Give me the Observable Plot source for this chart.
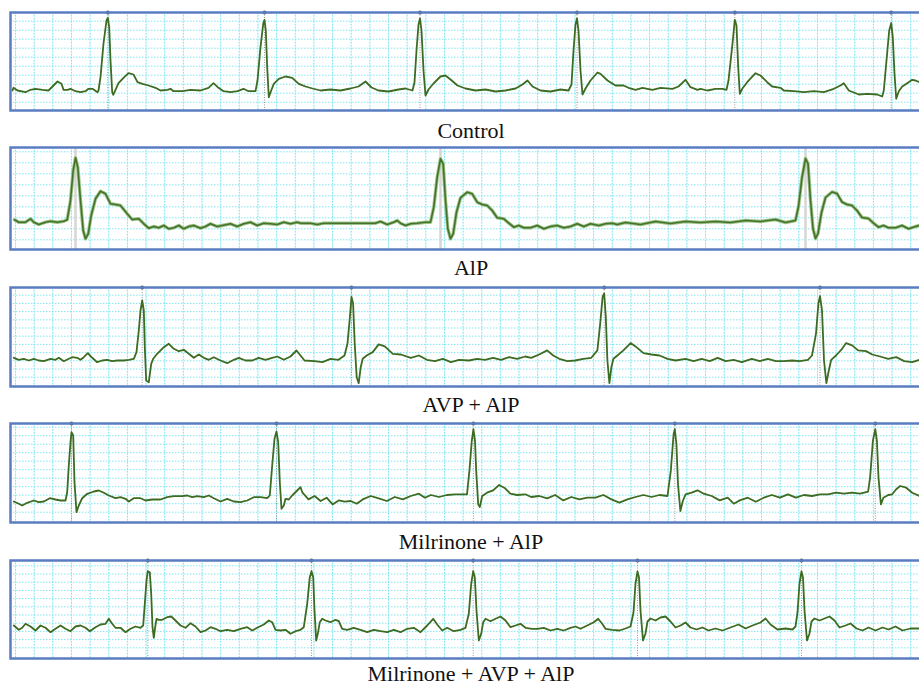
<!DOCTYPE html>
<html><head><meta charset="utf-8">
<script src="https://cdn.jsdelivr.net/npm/d3@7"></script>
<script src="https://cdn.jsdelivr.net/npm/@observablehq/plot@0.6"></script>
<style>
body{margin:0;background:#fff;}
#wrap{position:relative;width:919px;height:687px;overflow:hidden;background:#fff;}
#wrap > svg{position:absolute;left:0;margin:0;max-width:none !important;}
.cap{position:absolute;left:10px;width:922px;text-align:center;font-family:"Liberation Serif","Times New Roman",Times,"DejaVu Serif",serif;font-size:22px;line-height:1;color:#111;white-space:nowrap;}
</style></head><body><div id="wrap"></div>
<script>
// Condition names (panel captions)
const conditions = ["Control", "AlP", "AVP + AlP", "Milrinone + AlP", "Milrinone + AVP + AlP"];

// Traces: [time (samples), amplitude (arbitrary units above strip bottom)]
const controlTrace = [[2,20],[3,22.7],[7,20],[15,18.3],[20,20.7],[25,21.7],[32,20.7],[38,20],[43,25],[47,29],[51,26.7],[53,20.7],[57,20.7],[60,21.7],[65,19.3],[70,18.3],[75,19.3],[78,21.7],[82,21.7],[87,18.3],[88,20],[90,33.3],[93,67],[96,90],[97.3,92.7],[98.7,83.3],[100,50],[101.7,18.3],[102.7,15.7],[105,20.7],[108,27.3],[113,32.7],[118,37.3],[123,36],[127,28.3],[132,26.7],[138,25],[145,22.7],[150,20],[157,20.7],[160,21.7],[163,19.3],[172,19.3],[180,20.7],[190,20],[198,22.7],[203,27.3],[208,22.7],[213,19.3],[220,18.3],[227,19.3],[233,21.7],[238,19.3],[245,19.3],[247,30],[250,63.3],[252.7,86.7],[254,90.7],[255.3,80],[256.7,43.3],[258.3,13.3],[260.7,20],[263.3,26.7],[268.3,31.7],[275,34],[281.7,32.7],[288.3,26.7],[295,24],[302,22],[310,20],[320,21],[330,20],[340,22],[348,24],[355,29],[361,23],[368,20],[378,19],[388,21],[395,22],[402,20],[404,28],[406,60],[408,86],[409.5,92],[411,80],[413,40],[415,15],[418,21],[423,27],[430,34],[435,35],[440,31],[447,25],[455,22],[465,20],[475,21],[485,19],[495,20],[505,22],[512,26],[517,30],[522,24],[530,20],[540,19],[550,21],[558,20],[561,26],[563,60],[565,86],[566.5,92],[568,80],[570,40],[572,16],[575,22],[580,30],[587,38],[590,36.7],[597,30],[605,25],[613,25],[618,22.7],[625,20.7],[632,22.7],[642,20.7],[650,22.7],[662,21.7],[668,24],[675,30.7],[680,23.3],[687,20.7],[690,21.7],[697,20],[705,21.7],[712,21.7],[716,20.7],[718,30],[722,67],[724.3,90.7],[726,85],[727.7,43.3],[729.3,16.7],[731.7,21.7],[736.7,28.3],[745,37.3],[750,35],[756.7,28.3],[761.7,24],[770,22.7],[773.3,20],[783.3,19.3],[793.3,18.3],[803.3,19.3],[813.3,18.3],[823.3,21.7],[830,25],[833.3,27.3],[838.3,20],[848.3,16],[856.7,16.7],[866.7,16],[871.7,14],[873.3,20],[876,50],[878.7,80],[880.7,87.3],[882.3,73.3],[884,36.7],[885.7,11.7],[888.3,19.3],[891.7,24],[896.7,27.3],[901.7,30.7],[905,30],[909,28.3]];

const alpTrace = [[4,29.7],[8.3,27.3],[15,27.3],[20,30.7],[23.3,27.3],[28.3,25],[35,27.3],[40,28.3],[46.7,27.3],[53.3,28.3],[56.7,29.7],[60,49],[62.7,79],[65,91.7],[67.3,82.3],[70,49],[72.7,19],[75,10.7],[77.7,15.7],[80.7,34],[85,50.7],[90,58.3],[95,55.7],[100,45.7],[105,45],[110,44],[116.7,35.7],[121.7,30],[128.3,30.7],[133.3,25.7],[138.3,21.3],[143.3,23],[148.3,21.7],[153.3,24],[158.3,20.7],[163.3,21.7],[168.3,24],[173.3,20.7],[178.3,23],[183.3,24],[190,21.3],[195,23],[200,25.7],[206.7,23],[211.7,24],[220,25.7],[226.7,23],[233.3,25.7],[240,27.3],[246.7,24],[253.3,26.3],[260,25.7],[266.7,25],[273.3,27.3],[280,25.7],[286.7,27.3],[290,26.3],[300,26.3],[306.7,25],[313.3,26.3],[323.3,26.3],[333.3,26.3],[343.3,26.3],[356.7,26.3],[365,26.3],[370,28],[376.7,25],[383.3,27.3],[386.7,29],[390,26.3],[395,24],[400,25.7],[406.7,26.3],[415,27.3],[420,27.3],[423.3,42.3],[426.7,72.3],[430,90.7],[432.7,85.7],[435,49],[437.3,20.7],[440,10.7],[442.7,15.7],[446,37.3],[450,51.7],[456.7,57.3],[461.7,55.7],[466.7,47.3],[471.7,45],[476.7,44],[481.7,39],[486.7,31.7],[493.3,30.7],[498.3,26.3],[503.3,22.3],[508.3,24],[513.3,21.7],[520,21.7],[526.7,24],[533.3,20.7],[540,23],[546.7,24],[553.3,21.7],[560,23],[566.7,25.7],[573.3,23],[580,25.7],[588.3,24],[595,25.7],[601.7,26.3],[606.7,25],[615,27],[630,25],[645,28],[660,26],[675,28],[690,27],[705,28],[720,27],[735,29],[750,28],[765,30],[775,27],[785,29],[788,43],[791.5,72],[795,91],[797.5,86],[800,49],[802.5,21],[805,11],[807.5,16],[811,37],[815,52],[821.5,57.5],[826.5,56],[831.5,47.5],[836.5,45],[841.5,44],[846.5,39],[851.5,32],[858,31],[863,26.3],[868,22.3],[873,24],[878,21.7],[885,21.7],[891.5,24],[898,20.7],[905,23],[909,24]];

const avpTrace = [[3.3,28.7],[8.3,26.7],[13.3,27.7],[18.3,26],[23.3,27.7],[28.3,26],[33.3,25.3],[40,27.7],[45,26.7],[48.3,28.7],[53.3,25.3],[58.3,27.7],[61.7,29.3],[66.7,28.7],[70,26.7],[73.3,29.3],[77.3,33.3],[81.7,28.7],[86.7,24.3],[91.7,26],[96.7,26.7],[101.7,25.3],[106.7,26],[113.3,26],[118.3,26.7],[123.3,27.7],[126,34.3],[128.3,56],[130,76],[131.7,86],[133.3,76],[134.3,39.3],[135.7,6],[138.3,4.3],[140.7,22.7],[142.7,27.7],[146.7,32.7],[153.3,39.3],[158.3,42.7],[163.3,37.7],[168.3,35.3],[173.3,36.7],[178.3,32.7],[183.3,28.7],[188.3,32],[193.3,28.7],[198.3,26.7],[203.3,29.3],[210,26],[216.7,23.3],[223.3,26.7],[228.3,28.7],[235,26],[241.7,26],[248.3,28.7],[255,26.7],[261.7,28.7],[266.7,30],[273.3,26.7],[280,30],[286,36],[290,31],[294,26],[304,25.4],[312,24.4],[320,27.7],[328,26.7],[334,31],[337,43],[339.4,69.5],[341,89.6],[342.6,83],[344.2,43],[346.2,9.3],[348.2,3.3],[350.2,19.3],[352.2,27.7],[356.2,31],[362.2,34.4],[368.2,42.1],[374.3,40.1],[382.3,32.7],[390.3,32],[400.3,28.7],[408.4,31],[416.4,26.7],[424.4,25.4],[432.4,27.7],[440.4,24.4],[448.5,26.7],[458.5,26],[466.5,27.7],[474.5,26.7],[482.6,28.7],[490.6,26.7],[498.6,29.4],[506.6,27.7],[514.7,30],[520.7,28.7],[528.7,32],[536.7,36.1],[542.7,31],[548.8,27.7],[556.8,25.4],[564.8,26],[572.8,27.7],[580.8,28.7],[586.9,36.1],[589.7,62.8],[592.1,89.6],[593.7,93],[595.3,69.5],[596.9,26],[598.9,3.3],[600.9,19.3],[602.9,27.7],[606.9,31],[612.9,36.1],[620.1,43.4],[625,40.1],[633,33.4],[641,32],[649,31],[657,27.7],[665.1,26],[675.1,27.7],[683.1,25.4],[691.2,27.7],[699.2,25.4],[707.2,28.7],[715.2,25.4],[723.2,26.7],[731.3,24.4],[741.3,27.7],[749.3,25.4],[757.3,27.7],[765.4,25.4],[773.4,25.4],[781.4,26],[789.4,25.4],[797.4,26.7],[801.5,31],[805.5,52.8],[807.9,83],[809.5,90.3],[811.5,76.2],[813.5,26],[815.9,3.3],[818.3,16],[820.7,26.7],[825.5,31],[831.6,37.7],[835.6,43.4],[841.6,41.1],[847.6,36.1],[855.6,35.4],[861.6,32],[869.6,30],[877.7,27.7],[885.7,29.4],[893.7,25.4],[901.7,24.4],[909,26.7]];

const milTrace = [[3.3,21],[8.3,18.7],[11.7,17],[16.7,19.7],[23.3,22],[28.3,20.3],[33.3,21],[39.3,24.3],[45,23],[50,22],[55,22],[56.7,30.3],[58.3,57],[60,80.3],[61,90.3],[62.7,87],[64,40.3],[66,10.3],[68.3,17],[71.7,24.3],[76.7,28.7],[83.3,31],[88.3,32],[93.3,29.7],[98.3,27],[105,24.3],[110,25.3],[115,23.7],[118.3,21],[123.3,24.3],[130,24.3],[135,22],[141.7,23],[150,23],[156.7,25.3],[163.3,26.3],[171.7,26.3],[176.7,27],[181.7,25.3],[186.7,26.3],[193.3,25.3],[198.3,27],[203.3,24.3],[210,21],[216.7,23.7],[223.3,21],[230,20.3],[236.7,22],[243.3,25.3],[250,25.3],[256.7,24.3],[259.3,27],[261.7,57],[264,83.7],[266,91],[267.7,80.3],[269.3,40.3],[271,13.7],[273.3,17],[275,23.7],[278.3,23],[281.7,27],[286.7,32],[290,35.3],[292,29.8],[298,23.1],[304.1,26.5],[310.1,21.5],[316.1,24.8],[322.1,18.1],[328.1,22.1],[334.2,20.8],[340.2,21.5],[346.2,18.8],[352.2,23.1],[360.2,26.5],[368.2,24.1],[376.3,21.5],[384.3,25.5],[392.3,23.1],[400.3,26.5],[408.4,28.8],[414.4,24.8],[420.4,27.5],[428.4,25.5],[436.4,27.5],[444.5,28.2],[450.5,28.2],[456.5,28.2],[458.9,51.6],[461.3,81.7],[462.9,93.4],[464.5,81.7],[465.7,51.6],[467.7,18.1],[469.3,15.4],[471.7,26.5],[476.5,29.8],[482.6,32.2],[488.6,37.5],[494.6,34.2],[499.8,28.8],[506.6,27.5],[514.7,28.2],[520.7,25.5],[528.7,26.5],[536.7,24.1],[544.7,27.5],[552.8,22.1],[560.8,25.5],[568.8,23.1],[576.8,24.8],[584.9,24.8],[592.9,27.5],[600.9,23.1],[608.9,19.8],[616.9,23.1],[625,25.5],[633,27.5],[641,25.5],[649,27.5],[657,26.5],[660.3,51.6],[663.1,88.4],[664.3,93.4],[665.9,78.4],[667.5,38.2],[669.9,11.4],[672.3,21.5],[675.1,28.2],[681.1,29.8],[687.1,32.2],[693.2,28.8],[701.2,26.5],[709.2,22.1],[717.2,24.8],[723.2,18.8],[729.3,22.1],[737.3,24.8],[745.3,20.8],[753.3,24.8],[761.3,27.5],[769.4,24.8],[777.4,28.2],[785.4,24.8],[793.4,27.5],[801.5,26.5],[809.5,28.2],[817.5,28.2],[825.5,29.8],[833.5,28.8],[841.6,29.8],[849.6,28.8],[857.6,30.8],[859.6,44.9],[862.4,81.7],[864.8,93.4],[866.4,81.7],[868,44.9],[870.4,18.1],[872.9,24.8],[877.7,27.5],[881.7,28.2],[885.7,33.2],[889.7,36.5],[895.7,34.8],[901.7,29.8],[909,26.5]];

const milAvpTrace = [[3.3,33],[8.3,28.7],[11.7,30.7],[15,34.7],[20,32],[25,28],[30,33],[35,30.7],[40,26.3],[45,29.7],[50,33],[55,29.7],[60,27.3],[65,32],[70,33],[75,30.7],[79.3,27.3],[85,31.3],[90,34],[95,34.7],[98.3,39.7],[101.7,34.7],[105,30.7],[110,30.7],[115,26.3],[120,29.7],[125,32],[130,30.7],[132.7,33],[134.3,54.7],[136,78],[137.3,87.3],[139.3,86.3],[140.7,64.7],[142,31.3],[143.3,20.7],[144.7,31.3],[146,39.7],[148.3,38.7],[151.7,38.7],[156.7,41.3],[160.7,42],[165,38],[170,33],[175,30.7],[180,35.3],[185,32],[190,26.3],[195,28],[200,31.3],[205,29.7],[210,27.3],[216.7,28.7],[223.3,27.3],[230,29.7],[236.7,31.3],[241.7,28],[246.7,30.7],[253.3,34],[258.3,38],[261.7,36.3],[265,28.7],[270,28],[275,28.7],[280,24.7],[285,27.3],[290,28.7],[293.3,31.3],[296.7,54.7],[299.3,81.3],[301,87.3],[302.7,81.3],[304,48],[305.7,18],[307.3,24.7],[309.3,36.3],[311.7,39.7],[315,38],[320,36.3],[325,38.7],[328.3,37.3],[331.7,29.7],[336.7,28.7],[343.3,30.7],[350,28.7],[356.7,26.3],[363.3,28.7],[370,27.3],[376.7,26.3],[383.3,28.7],[390,26.3],[396.7,29.7],[403.3,30.7],[410,26.3],[416.7,33],[422.7,39.7],[426.7,34],[431.7,28],[436.7,30.7],[443.3,27.3],[450,28.7],[455,30.7],[458.3,44.7],[460.7,74.7],[462.7,87.3],[464.3,81.3],[466,48],[468.3,18],[470.7,24.7],[472.7,36.3],[475,39.7],[480,37.3],[485,39.7],[490,42],[495,38],[500,31.3],[505,33],[510,34.7],[515,30.7],[521.7,29.7],[526.7,29.7],[533.3,30.7],[540,28],[546.7,29.7],[553.3,28],[560,30.7],[565,32],[570,29.7],[576.7,33],[583.3,36.3],[587.7,39.7],[591.7,34.7],[595,29.7],[601.7,28.7],[609,28],[615,30],[620,32],[623,46],[625,75],[627,87],[628.5,81],[630,48],[632.5,18],[635,25],[637,37],[640,40],[645,38],[650,41],[655,42],[660,37],[665,31],[670,33],[675,36],[680,31],[686,29],[692,31],[698,28],[705,30],[712,28],[720,31],[728,34],[735,30],[742,33],[750,36],[755,40],[760,34],[767,29],[775,30],[782,29],[785,32],[787,46],[789,75],[791,87],[792.5,81],[794,48],[796.5,18],[799,25],[801,37],[804,40],[809,38],[814,40],[819,42],[824,38],[829,31],[835,33],[840,35],[846,30],[852,28],[858,31],[865,28],[872,31],[878,29],[885,32],[892,28],[900,30],[909,30]];

// R-wave detection marks (sample positions)
const controlBeats = [97.3, 254, 409.5, 566.5, 724.3, 880.7];
const alpBeats = [65, 430, 795];
const avpBeats = [131.7, 341, 593.7, 809.5];
const milBeats = [61, 266, 462.9, 664.3, 864.8];
const milAvpBeats = [137.3, 301, 462.7, 627, 791];

// ---- layout ----
const W = 935, ML = 10, MR = 3, PAD = 2, EXTRA = 2;
const panels = [
  {label: conditions[0], trace: controlTrace, beats: controlBeats, top: 12,  h: 98,  rowStep: 9.0, rowStart: 8.3,  capTop: 120},
  {label: conditions[1], trace: alpTrace,     beats: alpBeats,     top: 147, h: 102, rowStep: 11,  rowStart: 9.7,  capTop: 257, bold: true},
  {label: conditions[2], trace: avpTrace,     beats: avpBeats,     top: 287, h: 99,  rowStep: 8.2, rowStart: 9.3,  capTop: 394},
  {label: conditions[3], trace: milTrace,     beats: milBeats,     top: 423, h: 99,  rowStep: 8.5, rowStart: 10.3, capTop: 531},
  {label: conditions[4], trace: milAvpTrace,  beats: milAvpBeats,  top: 560, h: 98,  rowStep: 8.2, rowStart: 10.7, capTop: 663}
];
const xMax = W - ML - MR;
const colGrid = d3.range(5, xMax, 18.65);
const wrap = document.getElementById("wrap");

panels.forEach(p => {
  const rows = d3.range(p.rowStart, p.h - 2, p.rowStep);
  const traceMarks = p.bold
    ? [Plot.line(p.trace, {x: d => d[0], y: d => d[1], stroke: "#9cc287", strokeWidth: 3.4}),
       Plot.line(p.trace, {x: d => d[0], y: d => d[1], stroke: "#44722a", strokeWidth: 1.6})]
    : [Plot.line(p.trace, {x: d => d[0], y: d => d[1], stroke: "#3d6b22", strokeWidth: 1.8})];
  const chart = Plot.plot({
    width: W,
    height: PAD + p.h + EXTRA,
    marginLeft: ML, marginRight: MR, marginTop: PAD, marginBottom: EXTRA,
    x: {domain: [0, xMax], axis: null},
    y: {domain: [0, p.h], axis: null},
    style: {background: "transparent", overflow: "visible", maxWidth: "none"},
    marks: [
      Plot.ruleX(colGrid, {stroke: "#dcf8fb", strokeWidth: 1}),
      Plot.ruleX(colGrid, {stroke: "#80e6f1", strokeWidth: 1, strokeDasharray: "1.5,1.5"}),
      Plot.ruleY(rows, {stroke: "#80e6f1", strokeWidth: 1, strokeDasharray: "1.5,1.5"}),
      p.bold
        ? Plot.ruleX(p.beats, {stroke: "#d6d6d6", strokeWidth: 2.5})
        : Plot.ruleX(p.beats, {stroke: "#9a9a9a", strokeWidth: 1, strokeDasharray: "1,1.5"}),
      ...traceMarks,
      p.bold ? null : Plot.dot(p.beats, {x: d => d, y: () => p.h, r: 2, fill: "#4d5a4d"}),
      Plot.frame({stroke: "#5a7dc2", strokeWidth: 2.5})
    ]
  });
  chart.style.top = (p.top - PAD) + "px";
  chart.style.width = W + "px";
  chart.style.maxWidth = "none";
  wrap.appendChild(chart);
  const cap = document.createElement("div");
  cap.className = "cap";
  cap.style.top = p.capTop + "px";
  cap.textContent = p.label;
  wrap.appendChild(cap);
});
</script></body></html>
